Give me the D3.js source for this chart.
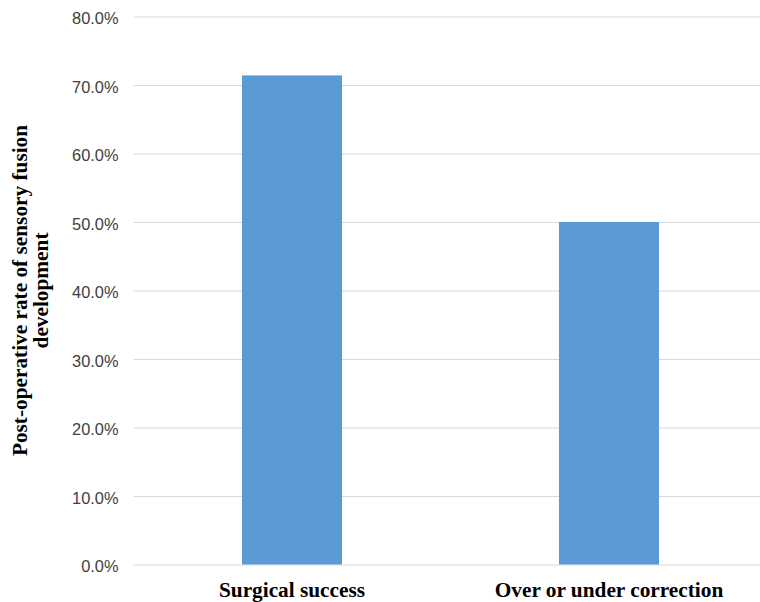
<!DOCTYPE html>
<html>
<head>
<meta charset="utf-8">
<script src="https://cdn.jsdelivr.net/npm/d3@7"></script>
<style>
  html, body { margin: 0; padding: 0; background: #fff; }
  svg { display: block; }
</style>
</head>
<body>
<svg id="chart" width="760" height="602"></svg>
<script>
// Post-operative sensory fusion rate by surgical outcome
const categories = ["Surgical success", "Over or under correction"];
const rates = [71.4, 50.0];
const yTicks = [0, 10, 20, 30, 40, 50, 60, 70, 80];
const yTitleLines = ["Post-operative rate of sensory fusion", "development"];

const svg = d3.select("#chart");

const plot = { left: 133.5, right: 767.5, top: 16.5, bottom: 564.5 };

const x = d3.scaleBand()
  .domain(categories)
  .range([plot.left, plot.right])
  .paddingInner(0.6845)
  .paddingOuter(0.34225);

const y = d3.scaleLinear()
  .domain([0, 80])
  .range([plot.bottom, plot.top]);

// horizontal gridlines with percentage labels
const yAxis = d3.axisLeft(y)
  .tickValues(yTicks)
  .tickSize(-(plot.right - plot.left))
  .tickPadding(15)
  .tickFormat(d => d.toFixed(1) + "%");

const gy = svg.append("g")
  .attr("transform", `translate(${plot.left},0)`)
  .call(yAxis);
gy.select(".domain").remove();
gy.selectAll(".tick line")
  .attr("stroke", "#d9d9d9")
  .attr("stroke-width", 1.2);
gy.selectAll(".tick text")
  .attr("fill", "#404040")
  .attr("dy", "0.45em")
  .style("font-family", "'Liberation Sans Narrow', 'Arial Narrow', Arial, sans-serif")
  .style("font-size", "16.4px");

// bars
svg.append("g")
  .selectAll("rect")
  .data(categories.map((c, i) => ({ c, v: rates[i] })))
  .join("rect")
  .attr("x", d => x(d.c))
  .attr("width", x.bandwidth())
  .attr("y", d => y(d.v))
  .attr("height", d => y(0) - y(d.v))
  .attr("fill", "#5b9bd5");

// category labels
const xAxis = d3.axisBottom(x).tickSize(0).tickPadding(17);
const gx = svg.append("g")
  .attr("transform", `translate(0,${plot.bottom})`)
  .call(xAxis);
gx.select(".domain").remove();
gx.selectAll(".tick text")
  .attr("fill", "#000")
  .style("font-family", "'Liberation Serif', 'Times New Roman', serif")
  .style("font-weight", "bold")
  .style("font-size", "21.3px");

// y-axis title, two lines
const title = svg.append("text")
  .attr("transform", `translate(27,${(plot.top + plot.bottom) / 2 + 0}) rotate(-90)`)
  .attr("text-anchor", "middle")
  .style("font-family", "'Liberation Serif', 'Times New Roman', serif")
  .style("font-weight", "bold")
  .style("font-size", "21.3px")
  .attr("fill", "#000");
title.selectAll("tspan")
  .data(yTitleLines)
  .join("tspan")
  .attr("x", 0)
  .attr("dy", (d, i) => i === 0 ? 0 : "1.0em")
  .text(d => d);
</script>
</body>
</html>
